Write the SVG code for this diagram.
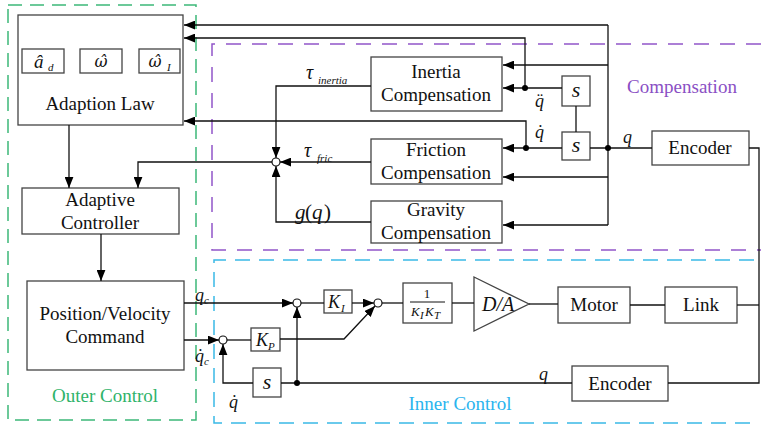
<svg xmlns="http://www.w3.org/2000/svg" width="761" height="425" viewBox="0 0 761 425" font-family="'Liberation Serif','DejaVu Serif','Times New Roman',serif">
<style>
.box{fill:#fff;stroke:#444;stroke-width:1.3}
.ln{fill:none;stroke:#111;stroke-width:1.3}
.ar{fill:none;stroke:#111;stroke-width:1.3;marker-end:url(#ah)}
.t{font-family:'Liberation Serif','DejaVu Serif','Times New Roman',serif;font-size:19px;fill:#111;text-anchor:middle}
.r{font-family:'Liberation Serif','DejaVu Serif','Times New Roman',serif;fill:#111}
.m{font-family:'Liberation Serif','DejaVu Serif','Times New Roman',serif;font-style:italic;fill:#111}
.dj{font-family:'DejaVu Serif',serif;font-style:italic;fill:#111}
.sub{font-family:'Liberation Serif','DejaVu Serif','Times New Roman',serif;font-style:italic;font-size:11px;fill:#111}
.sum{fill:#fff;stroke:#111;stroke-width:1.2}
.dot{fill:#000}
</style>
<defs>
<marker id="ah" viewBox="0 0 10 8" refX="10" refY="4" markerWidth="11" markerHeight="9" markerUnits="userSpaceOnUse" orient="auto">
<path d="M0,0 L10,4 L0,8 z" fill="#000"/>
</marker>
</defs>
<rect width="761" height="425" fill="#fff"/>

<!-- regions -->
<g id="outer-control">
<rect x="8" y="5" width="188" height="415" fill="none" stroke="#3cb878" stroke-width="1.5" stroke-dasharray="14,8"/>
<text x="105" y="402" class="t" style="fill:#2fb36a">Outer Control</text>
</g>
<g id="compensation">
<path d="M761,44 H212 V250 H761" fill="none" stroke="#9155c9" stroke-width="1.5" stroke-dasharray="15,11"/>
<text x="682" y="93" class="t" style="fill:#8a4fc4">Compensation</text>
</g>
<g id="inner-control">
<path d="M754,260 H214 V423 H754" fill="none" stroke="#3ab9e6" stroke-width="1.5" stroke-dasharray="15,9"/>
<text x="460" y="410" class="t" style="fill:#2ab4ee">Inner Control</text>
</g>

<!-- nodes -->
<g id="adaption-law">
<rect class="box" x="18" y="15" width="165" height="110"/>
<rect class="box" x="22" y="49" width="42" height="24"/>
<text class="m" x="34" y="68" font-size="19">â</text>
<text class="sub" x="48" y="71">d</text>
<rect class="box" x="80" y="49" width="42" height="24"/>
<text class="dj" x="101" y="67" font-size="16" text-anchor="middle">ω̂</text>
<rect class="box" x="139" y="49" width="41" height="24"/>
<text class="dj" x="155" y="67" font-size="16" text-anchor="middle">ω̂</text>
<text class="sub" x="167" y="71">I</text>
<text class="t" x="100" y="110">Adaption Law</text>
</g>
<g id="adaptive-controller">
<rect class="box" x="22" y="188" width="157" height="46"/>
<text class="t" x="100" y="206">Adaptive</text>
<text class="t" x="100" y="229">Controller</text>
</g>
<g id="pv-command">
<rect class="box" x="27" y="281" width="157" height="89"/>
<text class="t" x="105" y="320">Position/Velocity</text>
<text class="t" x="105" y="343">Command</text>
</g>
<g id="inertia">
<rect class="box" x="371" y="57" width="131" height="54"/>
<text class="t" x="436" y="78">Inertia</text>
<text class="t" x="436" y="101">Compensation</text>
</g>
<g id="friction">
<rect class="box" x="371" y="139" width="131" height="45"/>
<text class="t" x="436" y="156">Friction</text>
<text class="t" x="436" y="179">Compensation</text>
</g>
<g id="gravity">
<rect class="box" x="371" y="201" width="131" height="42"/>
<text class="t" x="436" y="216">Gravity</text>
<text class="t" x="436" y="239">Compensation</text>
</g>
<g id="s-upper">
<rect class="box" x="562" y="76" width="28" height="30"/>
<text class="m" x="576" y="97" font-size="22" text-anchor="middle">s</text>
</g>
<g id="s-lower">
<rect class="box" x="562" y="132" width="28" height="28"/>
<text class="m" x="576" y="152" font-size="22" text-anchor="middle">s</text>
</g>
<g id="encoder-top">
<rect class="box" x="652" y="131" width="97" height="34"/>
<text class="t" x="700" y="154">Encoder</text>
</g>
<g id="kp">
<rect class="box" x="251" y="328" width="29" height="23"/>
<text class="m" x="256" y="346" font-size="18">K</text>
<text class="sub" x="268" y="350" font-size="8">P</text>
</g>
<g id="s-inner">
<rect class="box" x="253" y="368" width="28" height="29"/>
<text class="m" x="267" y="389" font-size="22" text-anchor="middle">s</text>
</g>
<g id="ki">
<rect class="box" x="324" y="290" width="28" height="23"/>
<text class="m" x="328" y="308" font-size="18">K</text>
<text class="sub" x="341" y="312" font-size="8">I</text>
</g>
<g id="inv-kikt">
<rect class="box" x="403" y="283" width="49" height="40"/>
<text class="r" x="427" y="298" font-size="13" text-anchor="middle">1</text>
<line x1="410" y1="302" x2="445" y2="302" stroke="#111" stroke-width="1"/>
<text class="m" x="411" y="316" font-size="13">K</text>
<text class="sub" x="420" y="319" font-size="7">I</text>
<text class="m" x="425" y="316" font-size="13">K</text>
<text class="sub" x="434" y="319" font-size="7">T</text>
</g>
<g id="da">
<path d="M474,277 L529,304 L474,331 Z" fill="#fff" stroke="#444" stroke-width="1.3"/>
<text class="m" x="482" y="311" font-size="20">D/A</text>
</g>
<g id="motor">
<rect class="box" x="558" y="287" width="72" height="36"/>
<text class="t" x="594" y="311">Motor</text>
</g>
<g id="link">
<rect class="box" x="665" y="287" width="72" height="36"/>
<text class="t" x="701" y="311">Link</text>
</g>
<g id="encoder-bottom">
<rect class="box" x="572" y="366" width="96" height="35"/>
<text class="t" x="620" y="390">Encoder</text>
</g>

<!-- connectors -->
<g id="connectors">
<path class="ln" d="M608,25 V225"/>
<path class="ar" d="M608,25 H184"/>
<path class="ar" d="M608,65 H503"/>
<path class="ar" d="M608,177 H503"/>
<path class="ar" d="M608,225 H503"/>
<path class="ar" d="M525,88 V38 H184"/>
<path class="ar" d="M562,88 H503"/>
<path class="ar" d="M526,148 V121 H184"/>
<path class="ar" d="M562,148 H503"/>
<path class="ln" d="M576,106 V132"/>
<path class="ln" d="M652,148 H590"/>
<path class="ln" d="M749,148 H759 V383 H668"/>
<path class="ln" d="M737,305 H759"/>
<path class="ln" d="M572,383 H281"/>
<path class="ar" d="M253,383 H223 V344"/>
<path class="ar" d="M297,383 V307"/>
<path class="ar" d="M184,340 H219"/>
<path class="ar" d="M184,303 H293"/>
<path class="ln" d="M227,340 H251"/>
<path class="ar" d="M280,339 H344 L375,306"/>
<path class="ln" d="M301,303 H324"/>
<path class="ar" d="M352,303 H374"/>
<path class="ln" d="M382,303 H403"/>
<path class="ln" d="M452,303 H474"/>
<path class="ln" d="M529,304 H558"/>
<path class="ln" d="M630,305 H665"/>
<path class="ar" d="M371,86 H276 V158"/>
<path class="ar" d="M371,162 H280"/>
<path class="ar" d="M371,222 H276 V166"/>
<path class="ar" d="M272,162 H138 V188"/>
<path class="ar" d="M69,125 V188"/>
<path class="ar" d="M101,234 V281"/>
<circle class="sum" cx="223" cy="340" r="4"/>
<circle class="sum" cx="297" cy="303" r="4"/>
<circle class="sum" cx="378" cy="303" r="4"/>
<circle class="sum" cx="276" cy="162" r="4"/>
<circle class="dot" cx="608" cy="148" r="3"/>
<circle class="dot" cx="525" cy="88" r="3"/>
<circle class="dot" cx="526" cy="148" r="3"/>
<circle class="dot" cx="297" cy="383" r="3"/>
</g>

<!-- signal labels -->
<g id="labels">
<text class="m" x="306" y="79" font-size="20">τ</text>
<text class="sub" x="318" y="84">inertia</text>
<text class="m" x="304" y="157" font-size="20">τ</text>
<text class="sub" x="317" y="162">fric</text>
<text class="m" x="295" y="219" font-size="21">g</text>
<text class="r" x="305" y="219" font-size="21">(</text>
<text class="m" x="312" y="219" font-size="21">q</text>
<text class="r" x="324" y="219" font-size="21">)</text>
<text class="m" x="535" y="107" font-size="18">q̈</text>
<text class="m" x="535" y="138" font-size="18">q̇</text>
<text class="m" x="623" y="143" font-size="18">q</text>
<text class="m" x="539" y="380" font-size="18">q</text>
<text class="m" x="195" y="301" font-size="18">q</text>
<text class="sub" x="204" y="304" font-size="9">c</text>
<text class="m" x="195" y="362" font-size="18">q̇</text>
<text class="sub" x="204" y="365" font-size="9">c</text>
<text class="m" x="229" y="408" font-size="18">q̇</text>
</g>
</svg>
